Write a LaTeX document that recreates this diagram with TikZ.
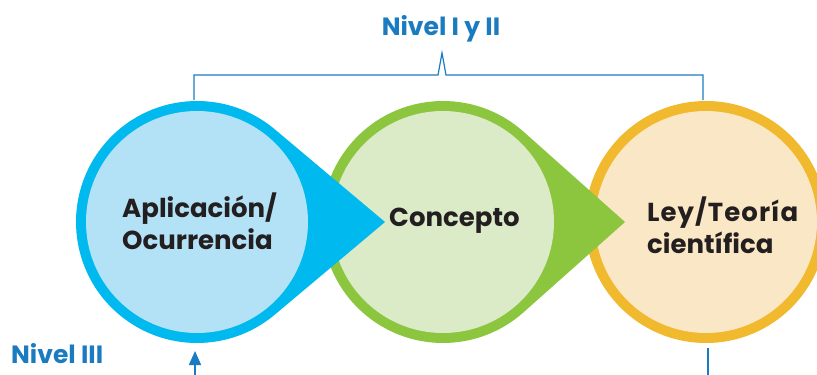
\documentclass[tikz,border=0pt]{standalone}
\usepackage{fontspec}
\setmainfont{Poppins}
\usetikzlibrary{arrows.meta,calc}
\definecolor{ringblue}{HTML}{00B9EE}
\definecolor{fillblue}{HTML}{B3E2F7}
\definecolor{ringgreen}{HTML}{8CC63F}
\definecolor{fillgreen}{HTML}{DBEAC7}
\definecolor{ringyellow}{HTML}{F0B92E}
\definecolor{fillyellow}{HTML}{FAE7C5}
\definecolor{labelblue}{HTML}{1B7BC0}
\definecolor{textdark}{HTML}{231F20}
\tikzset{
  innerdisc/.style={circle, minimum size=222pt, inner sep=0pt, draw=none},
  circtext/.style={text=textdark, font=\fontsize{26}{32}\selectfont\bfseries, align=left, inner sep=0pt},
  leveltext/.style={text=labelblue, font=\fontsize{25}{28}\selectfont\bfseries, inner sep=0pt},
  bracketline/.style={draw=labelblue, line width=1.2pt},
}
\begin{document}
\begin{tikzpicture}[x=1pt,y=-1pt]
\useasboundingbox (0,0) rectangle (817,375);
% centers and tips
\coordinate (cb) at (197,222);
\coordinate (cg) at (443,222);
\coordinate (cy) at (706,222);
\coordinate (tb) at (385,222);
\coordinate (tg) at (625,222);
% yellow circle
\fill[ringyellow] (cy) circle[radius=121pt];
\node[innerdisc, fill=fillyellow] (dy) at (cy) {};
% green teardrop
\fill[ringgreen] (tg) -- ($(cg)+(48.3:121pt)$) arc[start angle=48.3, end angle=311.7, radius=121pt] -- cycle;
\node[innerdisc, fill=fillgreen] (dg) at (cg) {};
% blue teardrop
\fill[ringblue] (tb) -- ($(cb)+(49.9:121pt)$) arc[start angle=49.9, end angle=310.1, radius=121pt] -- cycle;
\node[innerdisc, fill=fillblue] (db) at (cb) {};
% texts
\node[circtext, anchor=west] (ta) at (122,221) {Aplicación/\\Ocurrencia};
\node[circtext, anchor=west] (tc) at (389,221) {Concepto};
\node[circtext, anchor=west] (tl) at (647,225) {\addfontfeatures{LetterSpace=4}Ley/Teoría\\científica};
% level labels
\node[leveltext] (n12) at (441,29) {Nivel I y II};
\node[leveltext, anchor=west] (n3) at (11,354) {Nivel III};
% bracket
\coordinate (bl) at (194,100);
\coordinate (br) at (703,100);
\coordinate (bp) at (442,53);
\draw[bracketline, line join=miter] (bl) -- (194,75) -- (438,75) -- (bp) -- (446,75) -- (703,75) -- (br);
% bottom arrow and line
\coordinate (ab) at (195,375);
\coordinate (at) at (195,351);
\draw[labelblue, line width=1.5pt, -{Triangle[length=14pt,width=12pt]}] (ab) -- (at);
\coordinate (yb) at (708,375);
\coordinate (yt) at (708,348);
\draw[labelblue, line width=1.5pt] (yb) -- (yt);
\end{tikzpicture}
\end{document}
